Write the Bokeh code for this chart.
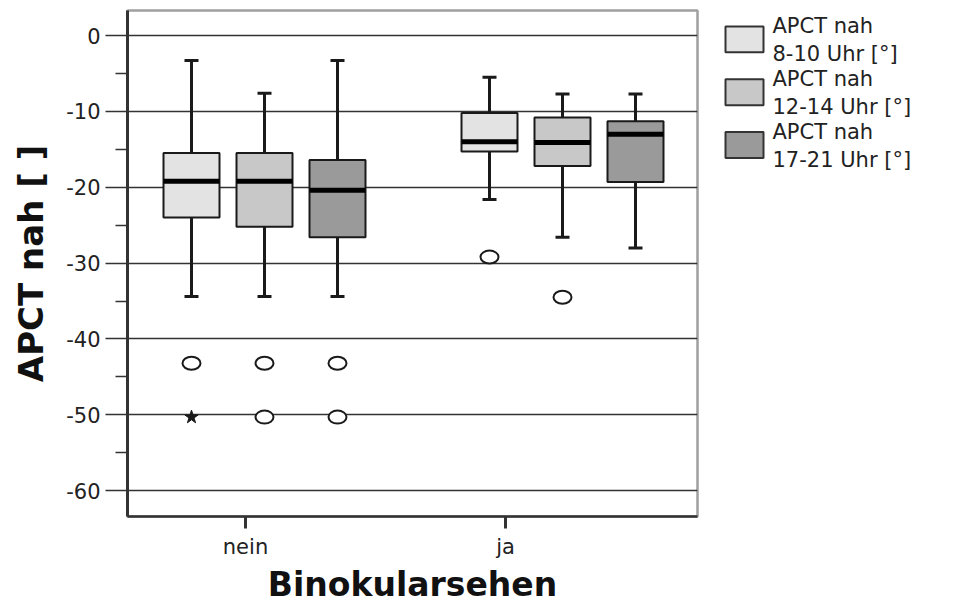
from bokeh.plotting import figure
from bokeh.layouts import row
from bokeh.models import Range1d, FixedTicker, ColumnDataSource
from bokeh.core.properties import value
from bokeh.embed import file_html
from bokeh.resources import INLINE

# ---------------- data ----------------
groups = ["nein", "ja"]
series = ["APCT nah\n8-10 Uhr [°]", "APCT nah\n12-14 Uhr [°]", "APCT nah\n17-21 Uhr [°]"]
colors = ["#e3e3e3", "#c8c8c8", "#9a9a9a"]

# rows: series, columns: groups (nein, ja)
whisker_hi = [[-3.3, -5.5], [-7.6, -7.7], [-3.3, -7.7]]
q3 = [[-15.5, -10.2], [-15.5, -10.8], [-16.4, -11.3]]
median = [[-19.2, -14.0], [-19.2, -14.1], [-20.4, -13.0]]
q1 = [[-24.0, -15.3], [-25.2, -17.2], [-26.6, -19.3]]
whisker_lo = [[-34.4, -21.6], [-34.4, -26.6], [-34.4, -28.0]]

out_group = [0, 0, 0, 0, 0, 1, 1]
out_series = [0, 1, 1, 2, 2, 0, 1]
out_value = [-43.2, -43.2, -50.3, -43.2, -50.3, -29.2, -34.5]
star_group = [0]
star_series = [0]
star_value = [-50.3]

y_ticks = [0, -10, -20, -30, -40, -50, -60]
y_minor = [-5, -15, -25, -35, -45, -55]

# ---------------- layout ----------------
group_center = [137, 435]
series_offset = [-73, 0, 73]
tick_pos = [118, 378]
box_w = 56
cap_w = 14
dark = "#1a1a1a"
grid_c = "#333333"

p = figure(width=699, height=606, output_backend="svg", toolbar_location=None,
           x_range=Range1d(0, 570), y_range=Range1d(-63.4, 3.3),
           min_border_left=127, min_border_right=2, min_border_top=10,
           min_border_bottom=88, background_fill_color="white",
           border_fill_color="white")

p.outline_line_color = "#a0a0a0"
p.outline_line_width = 2.5
p.xgrid.visible = False
p.ygrid.ticker = FixedTicker(ticks=y_ticks)
p.ygrid.grid_line_color = grid_c
p.ygrid.grid_line_width = 1.6

# y axis
ya = p.yaxis[0]
ya.ticker = FixedTicker(ticks=y_ticks, minor_ticks=y_minor)
ya.major_label_overrides = {t: str(t) for t in y_ticks}
ya.axis_line_color = grid_c
ya.axis_line_width = 3
ya.major_tick_out = 22
ya.major_tick_in = 0
ya.major_tick_line_color = grid_c
ya.major_tick_line_width = 1.6
ya.minor_tick_out = 12
ya.minor_tick_in = 0
ya.minor_tick_line_color = grid_c
ya.minor_tick_line_width = 1.6
ya.major_label_text_font = "DejaVu Sans"
ya.major_label_text_font_size = "21px"
ya.major_label_text_color = "#222222"
ya.major_label_standoff = 5
ya.axis_label = "APCT nah [ ]"
ya.axis_label_text_font = "DejaVu Sans"
ya.axis_label_text_font_style = "bold"
ya.axis_label_text_font_size = "34px"
ya.axis_label_text_color = "#111111"
ya.axis_label_standoff = 12

# x axis
xa = p.xaxis[0]
xa.ticker = FixedTicker(ticks=tick_pos)
xa.major_label_overrides = {tick_pos[i]: groups[i] for i in range(len(groups))}
xa.axis_line_color = grid_c
xa.axis_line_width = 2.5
xa.major_tick_out = 12
xa.major_tick_in = 0
xa.major_tick_line_color = grid_c
xa.major_tick_line_width = 3
xa.minor_tick_line_color = None
xa.major_label_text_font = "DejaVu Sans"
xa.major_label_text_font_size = "21px"
xa.major_label_text_color = "#222222"
xa.major_label_standoff = 6
xa.axis_label = "Binokularsehen"
xa.axis_label_text_font = "DejaVu Sans"
xa.axis_label_text_font_style = "bold"
xa.axis_label_text_font_size = "33px"
xa.axis_label_text_color = "#111111"
xa.axis_label_standoff = 3

for s in range(len(series)):
    xs = [group_center[g] + series_offset[s] for g in range(len(groups))]
    src = ColumnDataSource(dict(
        x=xs,
        left=[x - box_w / 2 for x in xs],
        right=[x + box_w / 2 for x in xs],
        cl=[x - cap_w / 2 for x in xs],
        cr=[x + cap_w / 2 for x in xs],
        hi=whisker_hi[s], q3=q3[s], med=median[s], q1=q1[s], lo=whisker_lo[s],
    ))
    # whiskers
    p.segment(x0="x", y0="q3", x1="x", y1="hi", source=src, line_color=dark, line_width=3)
    p.segment(x0="x", y0="q1", x1="x", y1="lo", source=src, line_color=dark, line_width=3)
    p.segment(x0="cl", y0="hi", x1="cr", y1="hi", source=src, line_color=dark, line_width=3)
    p.segment(x0="cl", y0="lo", x1="cr", y1="lo", source=src, line_color=dark, line_width=3)
    # box
    p.quad(left="left", right="right", top="q3", bottom="q1", source=src,
           fill_color=colors[s], line_color=dark, line_width=2)
    p.segment(x0="left", y0="med", x1="right", y1="med", source=src,
              line_color="#000000", line_width=5)

# outliers
osrc = ColumnDataSource(dict(
    x=[group_center[g] + series_offset[s] for g, s in zip(out_group, out_series)],
    y=out_value))
p.ellipse(x="x", y="y", width=18, height=13, width_units="screen", height_units="screen",
          source=osrc, fill_color="white", line_color=dark, line_width=2)
ssrc = ColumnDataSource(dict(
    x=[group_center[g] + series_offset[s] for g, s in zip(star_group, star_series)],
    y=star_value))
p.scatter(x="x", y="y", source=ssrc, marker="star", size=14,
          fill_color=dark, line_color=dark)

# ---------------- legend panel (frame aligned with the plot frame) ----------------
leg = figure(width=260, height=606, output_backend="svg", toolbar_location=None,
             x_range=Range1d(0, 260), y_range=Range1d(518, 10),
             min_border=0, background_fill_color="white", border_fill_color="white")
leg.axis.visible = False
leg.grid.visible = False
leg.outline_line_color = None

item_top = [26 + 53 * i for i in range(len(series))]
lsrc = ColumnDataSource(dict(
    top=item_top,
    bottom=[t + 26 for t in item_top],
    ty=[t - 12 for t in item_top],
    label=series,
    color=colors,
))
leg.quad(left=26, right=64, top="top", bottom="bottom", source=lsrc,
         fill_color="color", line_color="#333333", line_width=2)
leg.text(x=73, y="ty", text="label", source=lsrc, text_font=value("DejaVu Sans"),
         text_font_size="21px", text_color="#222222", text_baseline="top",
         text_line_height=1.15)

layout = row(p, leg, spacing=0)
open("out.html", "w").write(file_html(layout, INLINE))
